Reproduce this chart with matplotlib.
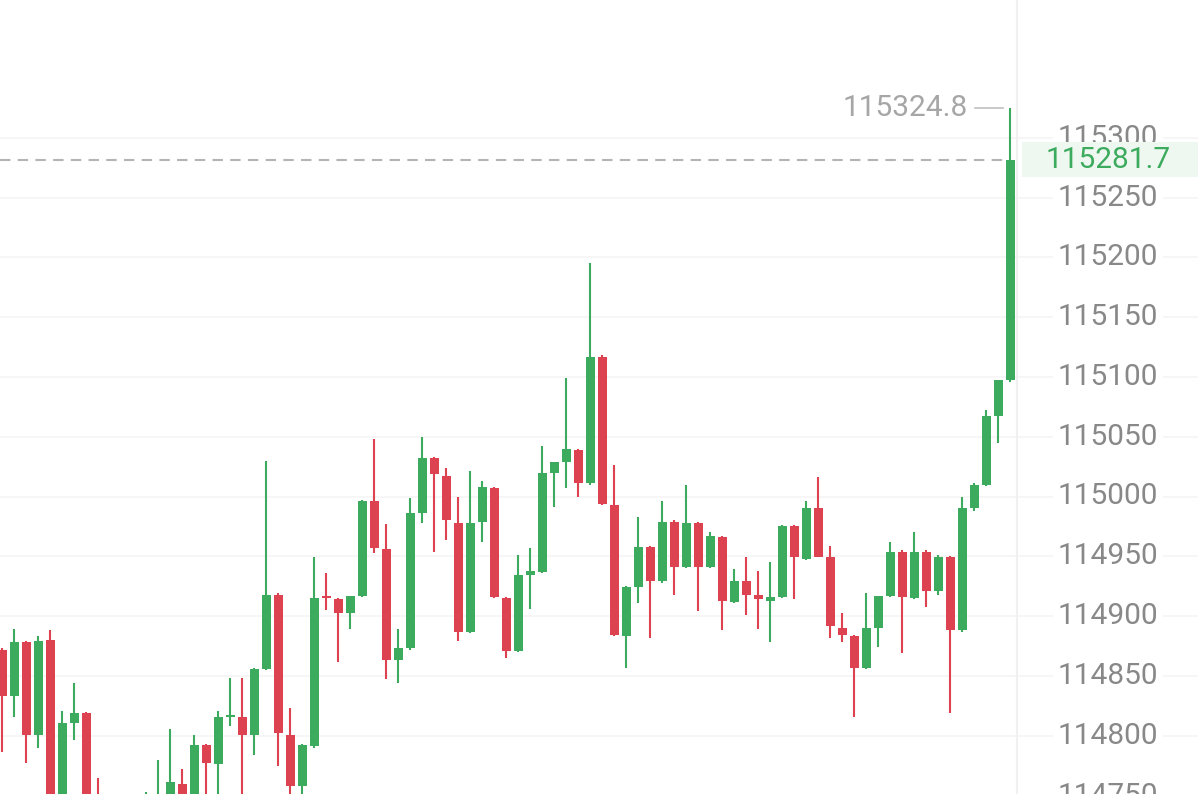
import matplotlib.pyplot as plt

# candle data (one bar per period)
opens = [114872, 114833, 114878, 114801, 114880, 114745, 114811, 114819, 114745, 114725,
         114710, 114728, 114735, 114742, 114748, 114760, 114745, 114792, 114776, 114816,
         114816, 114801, 114856, 114918, 114801, 114758, 114791, 114915.5, 114914, 114903,
         114917, 114996, 114956, 114863, 114873, 114986, 115032, 115017, 114978, 114887,
         114979, 115007, 114915, 114871, 114934, 114937, 115020, 115029, 115039, 115011,
         115117, 114993, 114883, 114924, 114958, 114929, 114979, 114941, 114978, 114941,
         114966, 114912, 114929, 114918, 114913, 114916, 114975, 114948, 114990, 114949,
         114890, 114883, 114857, 114890, 114917, 114954, 114915, 114954, 114921, 114949,
         114888, 114990, 115010, 115067, 115097]
highs = [114873, 114889, 114879, 114883, 114888, 114821, 114844, 114820, 114765, 114740,
         114735, 114742, 114753, 114780, 114806, 114772, 114801, 114793, 114821, 114848,
         114848, 114857, 115030, 114919, 114823, 114793, 114949, 114936, 114915, 114917,
         114997, 115048, 114977, 114889, 114999, 115050, 115033, 115024, 115000, 115021,
         115013, 115008, 114916, 114951, 114957, 115042, 115029, 115099, 115040, 115195,
         115118, 115026, 114925, 114983, 114959, 114996, 114980, 115010, 114979, 114970,
         114967, 114939, 114949, 114938, 114945, 114976, 114976, 114996, 115016, 114959,
         114903, 114884, 114919, 114917, 114962, 114955, 114970, 114955, 114951, 114950,
         115000, 115011, 115072, 115097, 115324.8]
lows = [114786, 114816, 114777, 114790, 114738, 114740, 114796, 114735, 114712, 114700,
        114695, 114715, 114720, 114730, 114740, 114735, 114738, 114740, 114745, 114808,
        114740, 114784, 114855, 114775, 114745, 114745, 114790, 114905, 114862, 114889,
        114916, 114953, 114847, 114844, 114872, 114978, 114954, 114964, 114879, 114886,
        114962, 114915, 114865, 114870, 114906, 114936, 114991, 115007, 115000, 115010,
        114993, 114883, 114857, 114911, 114882, 114928, 114918, 114940, 114904, 114940,
        114888, 114911, 114901, 114889, 114878, 114915, 114914, 114947, 114949, 114882,
        114878, 114816, 114856, 114874, 114916, 114869, 114914, 114908, 114918, 114819,
        114887, 114988, 115009, 115045, 115096]
closes = [114833, 114878, 114801, 114879, 114745, 114811, 114819, 114740, 114725, 114710,
          114728, 114735, 114742, 114748, 114761, 114745, 114792, 114777, 114816, 114817,
          114801, 114856, 114918, 114802, 114758, 114792, 114915, 114915, 114903, 114917,
          114996, 114957, 114863, 114873, 114986, 115032, 115019, 114980, 114887, 114978,
          115008, 114916, 114871, 114934, 114938, 115020, 115029, 115040, 115011, 115117,
          114994, 114884, 114924, 114958, 114929, 114979, 114941, 114978, 114941, 114967,
          114913, 114929, 114918, 114914, 114916, 114975, 114949, 114990, 114949, 114892,
          114884, 114857, 114890, 114917, 114954, 114916, 114954, 114921, 114949, 114888,
          114990, 115010, 115067, 115097, 115281.7]

tick_values = [114750, 114800, 114850, 114900, 114950, 115000, 115050,
               115100, 115150, 115200, 115250, 115300]
last_price = 115281.7
high_price = 115324.8

GREEN = '#3dab5e'
RED = '#dc4250'
GRAY = '#888888'

plt.rcParams['font.family'] = ['Roboto', 'DejaVu Sans']

fig = plt.figure(figsize=(11.98, 7.94), dpi=100)
ax = fig.add_axes([0, 0, 1, 1])
ax.set_axis_off()

# pixel helpers: candle i sits at px 2 + 12*i
def px(x):
    return (x - 2) / 12.0

ax.set_xlim(px(0), px(1198))
ax.set_ylim(115000 - 297.5 / 1.196, 115000 + 496.5 / 1.196)

# grid lines
for v in tick_values:
    ax.axhline(v, color='#f5f5f5', lw=1.2, zorder=0)
ax.axvline(px(1017), color='#f0f0f0', lw=1.5, zorder=0)

# candles
for i in range(len(opens)):
    o, h, l, c = opens[i], highs[i], lows[i], closes[i]
    col = GREEN if c >= o else RED
    ax.vlines(i, l, h, color=col, lw=1.5, zorder=2)
    bottom = min(o, c)
    height = max(abs(c - o), 1.5)
    ax.bar(i, height, bottom=bottom, width=0.75, color=col, lw=0, zorder=3)

# last price dashed line
n = len(opens)
ax.plot([px(0), n - 1], [last_price, last_price], color='#b4b4b4', lw=1.5,
        ls=(0, (5, 3.5)), zorder=1)

# price labels
label_x = px(1108)
for v in tick_values:
    ax.text(label_x, v, str(v), ha='center', va='center', fontsize=21.5, color=GRAY,
            zorder=4, bbox=dict(boxstyle='square,pad=0.15', fc='white', ec='none'))

# current price tag
ax.fill_between([px(1022), px(1198)], 115267.1, 115296.4, color='#eef8f1', lw=0, zorder=5)
ax.text(label_x, last_price, '%.1f' % last_price, ha='center', va='center',
        fontsize=21.5, color=GREEN, zorder=6)

# highest price marker
ax.plot([px(975), px(1003)], [high_price, high_price], color='#c0c0c0', lw=1.2, zorder=4)
ax.text(px(968), high_price, '%.1f' % high_price, ha='right', va='center',
        fontsize=21.5, color='#a6a6a6', zorder=4)

fig.savefig('out.png', dpi=100)
